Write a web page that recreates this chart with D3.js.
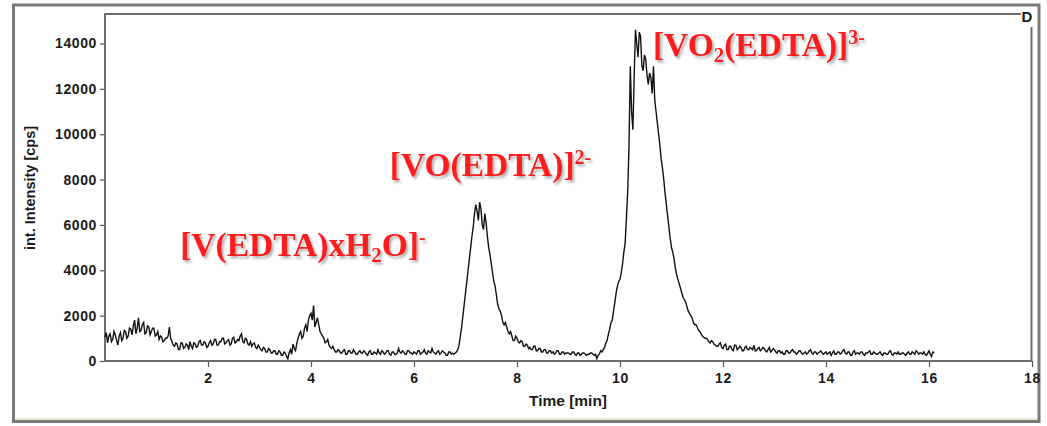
<!DOCTYPE html>
<html><head><meta charset="utf-8">
<script src="https://cdn.jsdelivr.net/npm/d3@7"></script>
<style>body{margin:0;background:#fff} svg{display:block}</style>
</head><body>
<svg id="c" width="1047" height="426"></svg>
<script>
// sampling interval of the trace (min); each row starts at the given whole minute
const timeStep = 0.025;
const startMinutes = [0, 1, 2, 3, 4, 5, 6, 7, 8, 9, 10, 11, 12, 13, 14, 15, 16];
// intensity [cps]
const intensityRows = [
  [1050, 1250, 800, 1100, 1200, 850, 950, 1300, 1150, 900, 700, 1100, 1250, 900, 1000, 1350, 1300, 1000, 1100, 1450, 1400, 1150, 1550, 1800, 1200, 1450, 1900, 1300, 1350, 1600, 1700, 1200, 1250, 1550, 1500, 1150, 1300, 1450, 1450, 1100],
  [1150, 1300, 950, 1100, 1050, 850, 900, 1000, 1000, 1100, 1500, 1000, 850, 700, 650, 800, 750, 500, 500, 800, 800, 550, 600, 750, 700, 500, 850, 650, 550, 800, 750, 600, 650, 850, 900, 700, 700, 850, 800, 600],
  [650, 800, 900, 700, 750, 950, 950, 700, 700, 850, 850, 1000, 1000, 750, 800, 900, 950, 700, 750, 1000, 1050, 800, 850, 950, 900, 1100, 1200, 850, 800, 1000, 950, 750, 700, 850, 650, 750, 800, 600, 550, 700],
  [600, 500, 450, 600, 550, 400, 400, 550, 500, 350, 350, 450, 450, 300, 300, 450, 400, 250, 250, 400, 350, 200, 100, 350, 500, 300, 750, 550, 450, 800, 1000, 1200, 1300, 1000, 1100, 1450, 1600, 1300, 1800, 2000],
  [2100, 1800, 2450, 1500, 1700, 1900, 1600, 1300, 1200, 1100, 1000, 800, 850, 950, 700, 600, 550, 650, 500, 400, 400, 500, 450, 350, 350, 450, 500, 300, 300, 450, 450, 350, 350, 500, 400, 300, 300, 400, 450, 350],
  [350, 450, 400, 300, 250, 400, 450, 300, 300, 400, 350, 300, 500, 350, 300, 450, 400, 300, 350, 450, 450, 300, 250, 400, 400, 300, 300, 350, 550, 400, 350, 450, 400, 300, 300, 450, 450, 350, 350, 300],
  [400, 350, 300, 450, 450, 300, 350, 400, 500, 350, 300, 450, 400, 350, 550, 400, 350, 300, 400, 450, 300, 350, 450, 400, 350, 250, 250, 400, 400, 300, 350, 300, 350, 400, 500, 700, 1100, 1500, 2000, 2500],
  [3000, 3500, 4000, 4500, 5000, 5500, 5900, 6500, 6900, 6600, 6200, 7000, 6700, 6000, 5800, 6500, 6100, 5500, 5000, 4700, 4300, 3900, 3500, 3300, 2900, 2500, 2300, 2200, 2000, 1700, 1600, 1700, 1500, 1300, 1200, 1300, 1100, 900, 900, 1100],
  [1000, 850, 800, 900, 850, 650, 650, 750, 700, 550, 600, 500, 500, 650, 650, 450, 450, 550, 550, 400, 400, 500, 500, 350, 350, 450, 450, 350, 400, 300, 350, 450, 450, 300, 300, 400, 400, 300, 350, 350],
  [350, 300, 300, 400, 400, 300, 250, 350, 350, 250, 300, 350, 350, 300, 250, 300, 300, 350, 350, 300, 250, 300, 100, 250, 300, 450, 400, 500, 600, 800, 900, 1200, 1400, 1700, 1800, 2200, 2600, 3000, 3300, 3500],
  [3600, 3900, 4300, 4800, 5200, 6300, 7500, 9500, 13000, 11000, 10200, 12500, 14600, 14000, 13400, 14500, 14300, 13000, 12800, 13500, 13300, 12600, 12200, 12700, 12500, 11800, 13000, 11500, 11000, 10500, 10000, 9500, 8900, 8500, 8000, 7400, 6900, 6400, 5900, 5400],
  [5000, 4800, 4500, 4100, 3800, 3600, 3400, 3200, 3000, 2800, 2700, 2600, 2400, 2200, 2100, 2000, 1900, 1700, 1600, 1600, 1500, 1350, 1300, 1200, 1100, 1050, 1000, 1000, 950, 850, 800, 900, 850, 750, 700, 650, 650, 750, 800, 600],
  [550, 700, 750, 500, 500, 650, 650, 500, 450, 700, 700, 500, 550, 650, 600, 450, 450, 600, 650, 500, 500, 600, 550, 500, 700, 450, 450, 550, 600, 450, 500, 600, 550, 450, 400, 500, 600, 400, 450, 550],
  [500, 400, 350, 450, 450, 350, 400, 300, 300, 450, 450, 350, 350, 450, 500, 400, 400, 300, 350, 450, 450, 350, 300, 350, 400, 300, 350, 450, 500, 350, 300, 400, 400, 300, 350, 400, 450, 350, 300, 350],
  [400, 300, 350, 400, 250, 350, 450, 300, 300, 400, 400, 300, 350, 450, 500, 350, 300, 400, 400, 250, 250, 400, 450, 300, 350, 350, 300, 400, 400, 300, 250, 350, 350, 400, 450, 300, 300, 400, 350, 300],
  [300, 350, 400, 300, 250, 350, 350, 300, 300, 400, 450, 300, 250, 350, 350, 300, 400, 300, 300, 350, 350, 300, 250, 350, 400, 300, 300, 400, 350, 300, 450, 400, 300, 350, 350, 300, 400, 300, 250, 350],
  [450, 300, 200, 400, 350]
];
const xTicks = [2, 4, 6, 8, 10, 12, 14, 16, 18];
const yTicks = [0, 2000, 4000, 6000, 8000, 10000, 12000, 14000];
const xTitle = "Time [min]";
const yTitle = "int. Intensity [cps]";
const cornerMark = "D";
// peak annotations: anchor (time, intensity) and text parts
const peakTimes = [1.46, 5.53, 10.64];
const peakLevels = [4650, 8150, 13450];
const peakTexts = [
  [["[V(EDTA)xH", "n"], ["2", "sub"], ["O]", "n"], ["-", "sup"]],
  [["[VO(EDTA)]", "n"], ["2-", "sup"]],
  [["[VO", "n"], ["2", "sub"], ["(EDTA)]", "n"], ["3-", "sup"]]
];

const svg = d3.select("#c");
const x = d3.scaleLinear().domain([0, 18]).range([105, 1032]);
const y = d3.scaleLinear().domain([0, 14000]).range([361, 43.5]);

// outer frame
svg.append("rect").attr("x", 0).attr("y", 0).attr("width", 1047).attr("height", 426).attr("fill", "#fff");
svg.append("line").attr("x1", 15).attr("x2", 1038).attr("y1", 419.5).attr("y2", 419.5)
  .attr("stroke", "#eeead6").attr("stroke-width", 3);
svg.append("rect").attr("x", 13.5).attr("y", 5).attr("width", 1025.5).attr("height", 416.5)
  .attr("fill", "none").attr("stroke", "#7a7a7a").attr("stroke-width", 3);

const defs = svg.append("defs");
const f = defs.append("filter").attr("id", "sh").attr("x", "-10%").attr("y", "-30%").attr("width", "130%").attr("height", "170%");
f.append("feDropShadow").attr("dx", 2).attr("dy", 2.5).attr("stdDeviation", 1.2)
  .attr("flood-color", "#555").attr("flood-opacity", 0.45);

// axes
const axFont = "'Liberation Sans', Arial, sans-serif";
const gy = svg.append("g").attr("transform", "translate(105,0)")
  .call(d3.axisLeft(y).tickValues(yTicks).tickSize(5).tickPadding(3).tickFormat(d3.format("d")));
const gx = svg.append("g").attr("transform", "translate(0,361)")
  .call(d3.axisBottom(x).tickValues(xTicks).tickSize(6).tickPadding(6).tickFormat(d3.format("d")));
[gx, gy].forEach(g => {
  g.select(".domain").remove();
  g.selectAll(".tick line").attr("stroke", "#555").attr("stroke-width", 1.2);
  g.selectAll(".tick text").attr("fill", "#1a1a1a").style("font-family", axFont)
    .style("font-size", "14px").style("font-weight", "bold").style("letter-spacing", "0.6px");
});

// plot frame
const fr = svg.append("g").attr("stroke", "#6e6e6e").attr("stroke-width", 2).attr("fill", "none");
fr.append("line").attr("x1", 105).attr("x2", 105).attr("y1", 14).attr("y2", 362);
fr.append("line").attr("x1", 104).attr("x2", 1032).attr("y1", 361).attr("y2", 361);
fr.append("line").attr("x1", 104).attr("x2", 1021).attr("y1", 14).attr("y2", 14);
fr.append("line").attr("x1", 1031.5).attr("x2", 1031.5).attr("y1", 27).attr("y2", 361);
svg.append("text").attr("x", 1027).attr("y", 22).attr("text-anchor", "middle")
  .style("font-family", axFont).style("font-size", "15px").style("font-weight", "bold")
  .attr("fill", "#1a1a1a").text(cornerMark);

// titles
svg.append("text").attr("x", 568).attr("y", 406).attr("text-anchor", "middle")
  .style("font-family", axFont).style("font-size", "15.5px").style("font-weight", "bold")
  .attr("fill", "#1a1a1a").text(xTitle);
svg.append("text").attr("transform", "translate(35,188) rotate(-90)").attr("text-anchor", "middle")
  .style("font-family", axFont).style("font-size", "14.5px").style("font-weight", "bold")
  .attr("fill", "#1a1a1a").text(yTitle);

// trace
const pts = [];
intensityRows.forEach((row, r) => row.forEach((v, j) => pts.push([startMinutes[r] + j * timeStep, v])));
const line = d3.line().x(d => x(d[0])).y(d => y(d[1]));
svg.append("path").datum(pts).attr("d", line)
  .attr("fill", "none").attr("stroke", "#111").attr("stroke-width", 1.4).attr("stroke-linejoin", "miter");

// peak labels
peakTexts.forEach((parts, k) => {
  const t = svg.append("text").attr("x", x(peakTimes[k])).attr("y", y(peakLevels[k]))
    .attr("filter", "url(#sh)").attr("fill", "#ff1a1a")
    .style("font-family", "'Liberation Serif', 'Times New Roman', serif")
    .style("font-weight", "bold").style("font-size", "33.5px");
  let shift = 0;
  parts.forEach(([s, kind]) => {
    const sp = t.append("tspan").text(s);
    let target = 0;
    if (kind === "sub") { sp.style("font-size", "21px"); target = 6; }
    else if (kind === "sup") { sp.style("font-size", "20px"); target = -12; }
    sp.attr("dy", target - shift);
    shift = target;
  });
});
</script>
</body></html>
